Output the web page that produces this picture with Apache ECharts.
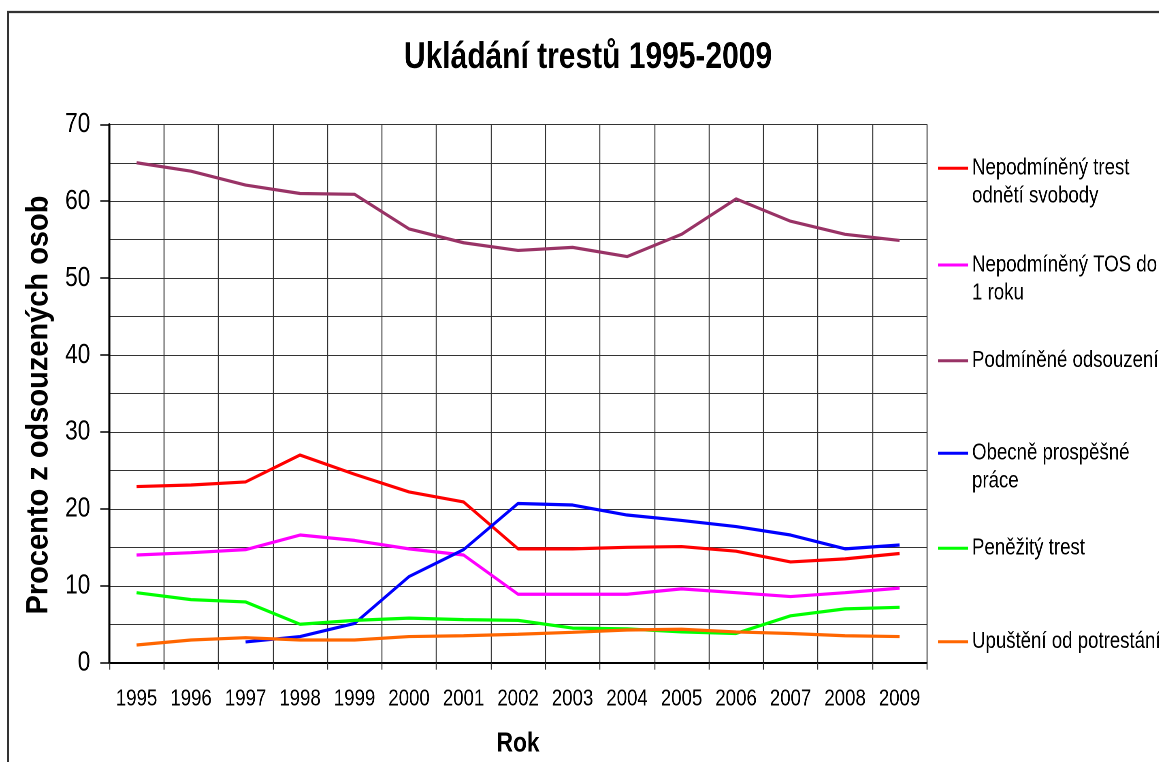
<!DOCTYPE html>
<html>
<head>
<meta charset="utf-8">
<script src="https://cdn.jsdelivr.net/npm/echarts@6/dist/echarts.min.js"></script>
<style>
html,body{margin:0;padding:0;background:#fff;overflow:hidden;}
#wrap{width:1159px;height:762px;overflow:hidden;position:relative;}
#chart{width:1431px;height:762px;transform:scaleX(0.81);transform-origin:0 0;}
</style>
</head>
<body>
<div id="wrap"><div id="chart"></div></div>
<script>
var years = ['1995','1996','1997','1998','1999','2000','2001','2002','2003','2004','2005','2006','2007','2008','2009'];
var nepodminenyTrest = [22.9,23.1,23.5,27.0,24.5,22.2,20.9,14.8,14.8,15.0,15.1,14.5,13.1,13.5,14.2];
var nepodminenyTOS = [14.0,14.3,14.7,16.6,15.9,14.8,14.0,8.9,8.9,8.9,9.6,9.1,8.6,9.1,9.7];
var podminene = [65.0,63.9,62.1,61.0,60.9,56.4,54.6,53.6,54.0,52.8,55.7,60.3,57.4,55.7,54.9];
var obecneProspesne = [null,null,2.7,3.4,5.1,11.2,14.7,20.7,20.5,19.2,18.5,17.7,16.6,14.8,15.3];
var penezity = [9.1,8.2,7.9,5.0,5.5,5.8,5.6,5.5,4.5,4.4,4.0,3.8,6.1,7.0,7.2];
var upusteni = [2.3,2.95,3.25,2.95,2.95,3.4,3.5,3.7,3.95,4.25,4.35,4.0,3.8,3.5,3.4];
var yTicks = [0,10,20,30,40,50,60,70];

var seriesNames = ['Nepodmíněný trest odnětí svobody','Nepodmíněný TOS do 1 roku','Podmíněné odsouzení','Obecně prospěšné práce','Peněžitý trest','Upuštění od potrestání'];
var legendLabels = ['\nNepodmíněný trest\nodnětí svobody','\nNepodmíněný TOS do\n1 roku','Podmíněné odsouzení','\nObecně prospěšné\npráce','Peněžitý trest','Upuštění od potrestání'];
var seriesData = [nepodminenyTrest,nepodminenyTOS,podminene,obecneProspesne,penezity,upusteni];
var colors = ['#FF0000','#FF00FF','#993366','#0000FF','#00FF00','#FF6600'];
var legendTops = [126.3,223,346.7,411.3,534.3,627.7];

// horizontal squeeze applied to the whole canvas (narrow-font look)
var S = 0.81;
function hx(px){ return px / S; }
var W = 1431;

var FONT = '"Liberation Sans",Arial,sans-serif';

var chart = echarts.init(document.getElementById('chart'), null, {renderer:'canvas', devicePixelRatio:2});

var legends = seriesNames.map(function(n,i){
  return {
    orient:'vertical', left:hx(938), top:legendTops[i], padding:0,
    data:[n], icon:'rect', itemWidth:hx(30), itemHeight:3, selectedMode:false,
    formatter:function(){return legendLabels[i];},
    textStyle:{fontFamily:FONT, fontSize:23, lineHeight:28, color:'#000'}
  };
});

chart.setOption({
  animation:false,
  backgroundColor:'#fff',
  color:colors,
  graphic:[
    {type:'rect', shape:{x:hx(8),y:12,width:2000,height:900}, style:{fill:'none', stroke:'#333', lineWidth:2.3}, z:-1, silent:true},
    {type:'text', x:hx(588), y:58, style:{text:'Ukládání trestů 1995-2009', font:'bold 37px '+FONT, fill:'#000', align:'center', verticalAlign:'middle'}},
    {type:'text', x:hx(39), y:405, rotation:Math.PI/2, scaleY:1.3,
      style:{text:'Procento z odsouzených osob', font:'bold 29px '+FONT, fill:'#000', align:'center', verticalAlign:'middle'}}
  ],
  legend:legends,
  grid:{left:hx(109.3), right:W-hx(926.8), top:124.3, bottom:762-662.7, containLabel:false, outerBoundsMode:'none'},
  xAxis:{
    type:'category', data:years, boundaryGap:true,
    name:'Rok', nameLocation:'middle', nameGap:67,
    nameTextStyle:{fontFamily:FONT, fontWeight:'bold', fontSize:28, color:'#000'},
    axisLine:{lineStyle:{color:'#000', width:2}},
    axisTick:{show:true, length:7, inside:false, lineStyle:{color:'#333', width:hx(1)}},
    axisLabel:{fontFamily:FONT, fontSize:23, color:'#000', margin:25, interval:0},
    splitLine:{show:true, lineStyle:{color:'#333', width:hx(1)}}
  },
  yAxis:{
    type:'value', min:0, max:70, interval:10,
    axisLine:{show:true, lineStyle:{color:'#000', width:hx(2)}},
    axisTick:{show:true, length:hx(9), lineStyle:{color:'#000', width:1.5}},
    axisLabel:{fontFamily:FONT, fontSize:28, color:'#000', margin:hx(19),
      formatter:function(v){return yTicks.indexOf(v)>=0 ? String(v) : '';}},
    splitLine:{show:true, lineStyle:{color:'#333', width:1}},
    minorTick:{show:false, splitNumber:2},
    minorSplitLine:{show:true, lineStyle:{color:'#333', width:1}}
  },
  series:seriesNames.map(function(n,i){
    return {name:n, type:'line', data:seriesData[i], symbol:'none', showSymbol:false,
      lineStyle:{width:3.2, color:colors[i]}, itemStyle:{color:colors[i]}, connectNulls:false, z:3+i};
  })
});
</script>
</body>
</html>
